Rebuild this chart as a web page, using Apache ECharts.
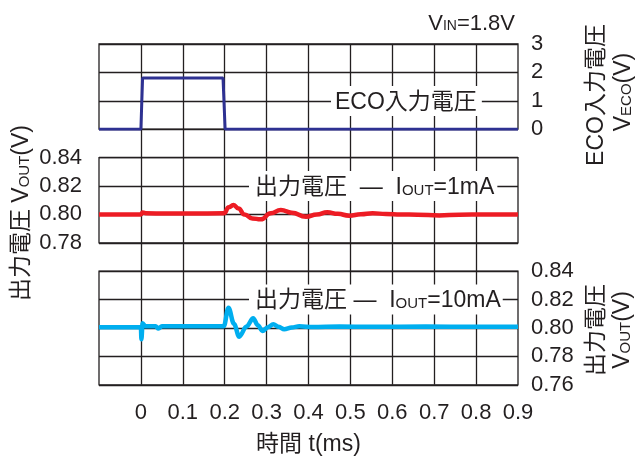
<!DOCTYPE html>
<html>
<head>
<meta charset="utf-8">
<script src="https://cdn.jsdelivr.net/npm/echarts@6/dist/echarts.min.js"></script>
<style>
html,body{margin:0;padding:0;background:#fff;}
#c{width:638px;height:457px;}
</style>
</head>
<body>
<div id="c"></div>
<script>
// ---- data (time in ms, voltage in V) ----
const ecoT  = [-0.1, 0.0, 0.004, 0.196, 0.201, 0.9];
const ecoV  = [0, 0, 1.8, 1.8, 0, 0];

const out1T = [-0.1, 0.0, 0.004, 0.012, 0.06, 0.12, 0.198, 0.210, 0.221, 0.233, 0.247, 0.266, 0.286, 0.310, 0.334, 0.360, 0.394, 0.420, 0.445, 0.470, 0.497, 0.525, 0.553, 0.585, 0.620, 0.660, 0.712, 0.760, 0.820, 0.9];
const out1V = [0.8000, 0.8000, 0.8014, 0.8008, 0.8006, 0.8006, 0.8008, 0.8050, 0.8066, 0.8042, 0.8000, 0.7972, 0.7965, 0.8008, 0.8031, 0.8012, 0.7984, 0.7999, 0.8015, 0.8004, 0.7991, 0.8001, 0.8008, 0.8003, 0.8000, 0.7998, 0.7993, 0.7998, 0.8000, 0.8000];

const out10T = [-0.1, 0.0, 0.0012, 0.004, 0.010, 0.035, 0.042, 0.050, 0.100, 0.150, 0.198, 0.209, 0.222, 0.2346, 0.252, 0.268, 0.279, 0.290, 0.303, 0.316, 0.329, 0.342, 0.360, 0.378, 0.410, 0.474, 0.55, 0.68, 0.8, 0.9];
const out10V = [0.8005, 0.8005, 0.7920, 0.8033, 0.8013, 0.8012, 0.7996, 0.8012, 0.8012, 0.8012, 0.8013, 0.8143, 0.8030, 0.7939, 0.8010, 0.8068, 0.8020, 0.7979, 0.8005, 0.8026, 0.8008, 0.7991, 0.8004, 0.8012, 0.8007, 0.8010, 0.8008, 0.8010, 0.8009, 0.8009];

// axis ranges / ticks
const xRange    = [-0.1, 0.9, 0.1];
const ecoRange  = [0, 3, 1];
const v1Range   = [0.78, 0.84, 0.02];
const v10Range  = [0.76, 0.84, 0.02];

const zip = (a, b) => a.map((t, i) => [t, b[i]]);

const FONT = "'Liberation Sans', Arial, 'Noto Sans CJK JP', sans-serif";
const INK = '#231f20';
const GL = 1.3;

const chart = echarts.init(document.getElementById('c'), null, {renderer: 'canvas'});

const L = 99, R = 638 - 518;
const rowH = (384.8 - 44) / 12;
const gTop = [44, 44 + rowH * 4, 44 + rowH * 8];
const gH = [rowH * 3, rowH * 3, rowH * 4];
const dx = (518 - 99) / 10;

const panelAxisX = (gi, showLabels) => ({
  type: 'value', gridIndex: gi, min: xRange[0], max: xRange[1], interval: xRange[2],
  axisLine: {show: false}, axisTick: {show: false}, splitLine: {show: false},
  axisLabel: {show: showLabels, margin: 17, fontSize: 22, color: INK, fontFamily: FONT,
    formatter: v => v < -0.05 ? '' : (Math.abs(v) < 1e-9 ? '0' : v.toFixed(1))},
  name: showLabels ? '時間 t(ms)' : '', nameLocation: 'middle', nameGap: 48,
  nameTextStyle: {fontSize: 23, color: INK, fontFamily: FONT}
});

const panelAxisY = (gi, rng, pos, margin, dec) => ({
  type: 'value', gridIndex: gi, position: pos, min: rng[0], max: rng[1], interval: rng[2],
  axisLine: {show: false}, axisTick: {show: false},
  splitLine: {show: true, lineStyle: {color: INK, width: GL}},
  axisLabel: {margin: margin, fontSize: 22, color: INK, fontFamily: FONT,
    formatter: v => v.toFixed(dec)}
});

const txt = (x, y, rich, text, opts) => Object.assign({
  type: 'text', x: x, y: y, z: 50,
  style: Object.assign({text: text, rich: rich, fill: INK, font: '23px ' + FONT,
    align: 'left', verticalAlign: 'middle'}, opts && opts.style || {})
}, opts && opts.el || {});

const richStd = {
  a: {fontSize: 23, fontFamily: FONT, color: INK, verticalAlign: 'bottom', lineHeight: 26},
  s: {fontSize: 15, fontFamily: FONT, color: INK, verticalAlign: 'bottom', lineHeight: 26, padding: [0, 0, 1, 0]}
};
const richVin = {
  a: {fontSize: 22, fontFamily: FONT, color: INK, verticalAlign: 'bottom', lineHeight: 25},
  s: {fontSize: 14, fontFamily: FONT, color: INK, verticalAlign: 'bottom', lineHeight: 25, padding: [0, 0, 1, 0]}
};

const option = {
  backgroundColor: '#fff',
  animation: false,
  grid: [
    {left: L, right: R, top: gTop[0], height: gH[0], show: true, borderColor: INK, borderWidth: GL},
    {left: L, right: R, top: gTop[1], height: gH[1], show: true, borderColor: INK, borderWidth: GL},
    {left: L, right: R, top: gTop[2], height: gH[2], show: true, borderColor: INK, borderWidth: GL},
    {left: L + dx, right: R + dx, top: 44, height: 384.8 - 44}
  ],
  xAxis: [
    panelAxisX(0, false),
    panelAxisX(1, false),
    panelAxisX(2, true),
    {type: 'value', gridIndex: 3, min: 0, max: 0.8, interval: 0.1,
      axisLine: {show: false}, axisTick: {show: false}, axisLabel: {show: false},
      splitLine: {show: true, lineStyle: {color: INK, width: GL}}}
  ],
  yAxis: [
    panelAxisY(0, ecoRange, 'right', 13, 0),
    panelAxisY(1, v1Range, 'left', 17, 2),
    panelAxisY(2, v10Range, 'right', 13, 2),
    {type: 'value', gridIndex: 3, min: 0, max: 1, show: false, splitLine: {show: false}}
  ],
  series: [
    {type: 'line', xAxisIndex: 0, yAxisIndex: 0, data: zip(ecoT, ecoV), showSymbol: false,
      lineStyle: {color: '#2e3192', width: 3}, z: 10},
    {type: 'line', xAxisIndex: 1, yAxisIndex: 1, data: zip(out1T, out1V), showSymbol: false,
      smooth: 0.5, smoothMonotone: 'x', lineStyle: {color: '#ed1c24', width: 4.5}, z: 10},
    {type: 'line', xAxisIndex: 2, yAxisIndex: 2, data: zip(out10T, out10V), showSymbol: false,
      smooth: 0.35, smoothMonotone: 'x', lineStyle: {color: '#00aeef', width: 4.5}, z: 10}
  ],
  graphic: [
    // in-panel labels with white backgrounds
    txt(331, 101, richStd, '{a|ECO入力電圧}', {style: {backgroundColor: '#fff', padding: [2, 5, 2, 4]}}),
    txt(249, 186, richStd, '{a|出力電圧  —  I}{s|OUT}{a|=1mA}', {style: {backgroundColor: '#fff', padding: [2, 3, 2, 6]}}),
    txt(249, 299.6, richStd, '{a|出力電圧 —  I}{s|OUT}{a|=10mA}', {style: {backgroundColor: '#fff', padding: [2, 2, 2, 6]}}),
    // VIN
    txt(515, 22, richVin, '{a|V}{s|IN}{a|=1.8V}', {style: {align: 'right'}}),
    // right titles top
    txt(595, 95, richStd, '{a|ECO入力電圧}', {style: {align: 'center'}, el: {rotation: Math.PI / 2}}),
    txt(622, 92, richStd, '{a|V}{s|ECO}{a|(V)}', {style: {align: 'center'}, el: {rotation: Math.PI / 2}}),
    // right titles bottom
    txt(595, 330, richStd, '{a|出力電圧}', {style: {align: 'center'}, el: {rotation: Math.PI / 2}}),
    txt(621, 330, richStd, '{a|V}{s|OUT}{a|(V)}', {style: {align: 'center'}, el: {rotation: Math.PI / 2}}),
    // left title
    txt(20, 213, richStd, '{a|出力電圧 V}{s|OUT}{a|(V)}', {style: {align: 'center'}, el: {rotation: Math.PI / 2}})
  ]
};

chart.setOption(option);
</script>
</body>
</html>
